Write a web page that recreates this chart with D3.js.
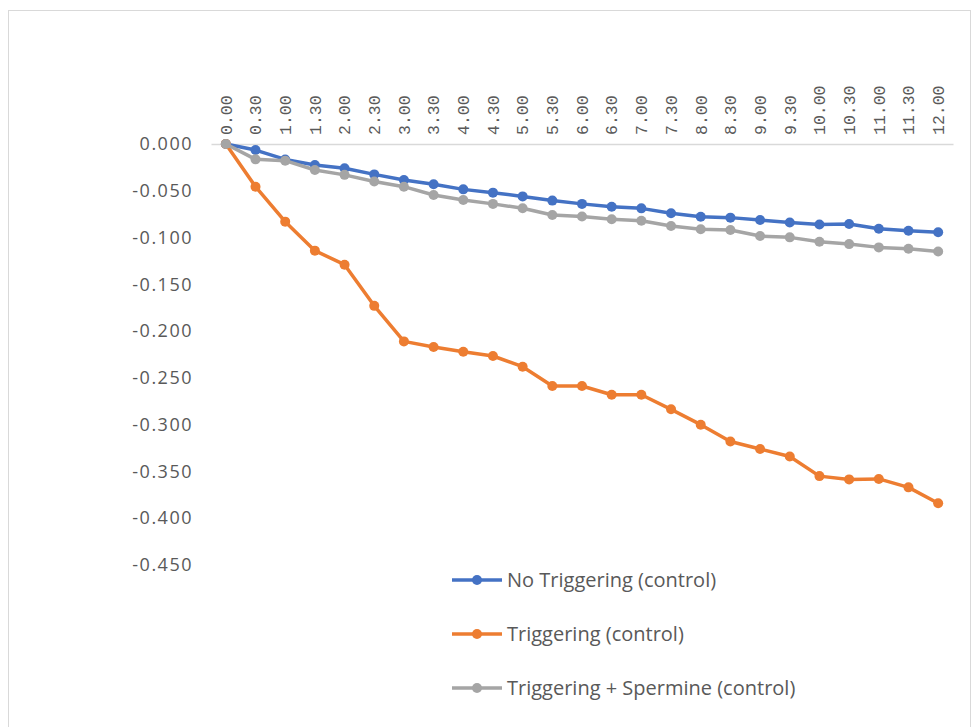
<!DOCTYPE html>
<html><head><meta charset="utf-8">
<script src="https://cdn.jsdelivr.net/npm/d3@7"></script>
<style>body{margin:0;background:#fff}svg{display:block}</style>
</head><body>
<script>
const categories = ["0.00","0.30","1.00","1.30","2.00","2.30","3.00","3.30","4.00","4.30","5.00","5.30","6.00","6.30","7.00","7.30","8.00","8.30","9.00","9.30","10.00","10.30","11.00","11.30","12.00"];
const noTriggering = [0,-0.0065,-0.0165,-0.0225,-0.026,-0.0325,-0.0385,-0.043,-0.0485,-0.052,-0.056,-0.0605,-0.064,-0.067,-0.0688,-0.074,-0.0777,-0.0787,-0.0812,-0.084,-0.086,-0.0855,-0.0905,-0.0927,-0.0944];
const triggering = [0,-0.0456,-0.083,-0.114,-0.129,-0.173,-0.211,-0.217,-0.222,-0.2266,-0.238,-0.2587,-0.2587,-0.268,-0.268,-0.2836,-0.300,-0.318,-0.326,-0.334,-0.355,-0.3585,-0.358,-0.367,-0.384];
const spermine = [0,-0.0164,-0.0178,-0.0278,-0.033,-0.040,-0.0456,-0.0545,-0.0598,-0.064,-0.0687,-0.0759,-0.0774,-0.0805,-0.082,-0.0877,-0.0912,-0.092,-0.0984,-0.0998,-0.1044,-0.107,-0.1105,-0.1119,-0.115];
const yTicks = [0,-0.05,-0.1,-0.15,-0.2,-0.25,-0.3,-0.35,-0.4,-0.45];
const seriesNames = ["No Triggering (control)","Triggering (control)","Triggering + Spermine (control)"];
const seriesColors = ["#4472c4","#ed7d31","#a5a5a5"];
const seriesValues = [noTriggering, triggering, spermine];

const W = 972, H = 727;
const svg = d3.select("body").append("svg").attr("width", W).attr("height", H);
svg.append("rect").attr("x",8.5).attr("y",10.5).attr("width",W-10).attr("height",H-8)
  .attr("fill","#fff").attr("stroke","#d9d9d9");

const x = d3.scaleBand().domain(categories).range([211, 953]);
const y = d3.scaleLinear().domain([-0.45, 0]).range([565, 144]);

// Y axis labels
const fmt = d3.format(".3f");
const yAxis = d3.axisLeft(y).tickValues(yTicks).tickFormat(d => fmt(d).replace("\u2212","-")).tickSize(0).tickPadding(0);
const gy = svg.append("g").attr("transform","translate(193,0)").call(yAxis);
gy.select(".domain").remove();
gy.selectAll("text").attr("font-family","'Open Sans', sans-serif").attr("font-size",18)
  .attr("letter-spacing","1.5px").attr("fill","#595959");

// X axis at top (y=0)
const xAxis = d3.axisTop(x).tickSize(0).tickPadding(0);
const gx = svg.append("g").attr("transform",`translate(0,${y(0)})`).call(xAxis);
gx.select(".domain").attr("stroke","#d9d9d9").attr("stroke-width",1.5);
gx.selectAll("text")
  .attr("font-family","'Liberation Mono', monospace").attr("font-size",16.5).attr("fill","#595959")
  .attr("text-anchor","start").attr("transform","rotate(-90)")
  .attr("x",9).attr("y",0).attr("dy","0.35em");

const line = d3.line().x((d,i)=>x(categories[i]) + x.bandwidth()/2).y(d=>y(d));
seriesValues.forEach((vals, s) => {
  const g = svg.append("g");
  g.append("path").datum(vals).attr("d", line).attr("fill","none")
    .attr("stroke", seriesColors[s]).attr("stroke-width",3.5).attr("stroke-linejoin","round");
  g.selectAll("circle").data(vals).join("circle")
    .attr("cx",(d,i)=>x(categories[i]) + x.bandwidth()/2).attr("cy",d=>y(d)).attr("r",5)
    .attr("fill", seriesColors[s]);
});
// Legend
const legY = [580, 634, 688];
seriesNames.forEach((name, s) => {
  const g = svg.append("g").attr("transform",`translate(452,${legY[s]})`);
  g.append("line").attr("x1",0).attr("x2",50).attr("y1",0).attr("y2",0)
    .attr("stroke",seriesColors[s]).attr("stroke-width",3.5);
  g.append("circle").attr("cx",25).attr("cy",0).attr("r",5).attr("fill",seriesColors[s]);
  g.append("text").attr("x",55).attr("y",0).attr("dy","0.35em")
    .attr("font-family","'Open Sans', sans-serif").attr("font-size",20).attr("fill","#595959")
    .text(name);
});
</script>
</body></html>
